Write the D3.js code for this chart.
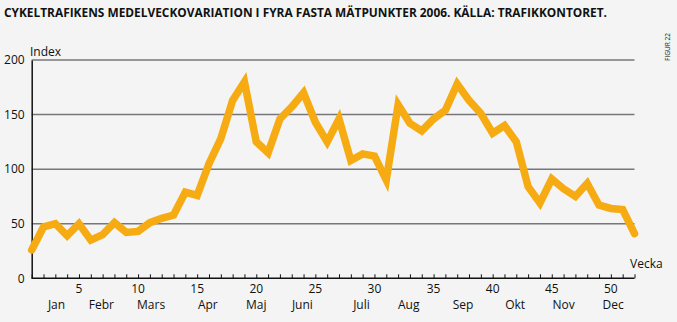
<!DOCTYPE html>
<html><head><meta charset="utf-8">
<script src="https://cdn.jsdelivr.net/npm/d3@7/dist/d3.min.js"></script>
<style>
html,body{margin:0;padding:0;background:#f3f4f3;}
svg{display:block;}
text{font-family:"Open Sans","Noto Sans",sans-serif;fill:#111;}
</style></head><body>
<svg id="chart" width="677" height="322"></svg>
<script>
const weeks = d3.range(1, 53);
const values = [26, 47, 50, 39, 50, 35, 40, 51, 42, 43, 51, 55, 58, 79, 76, 105,
  128, 163, 180, 125, 115, 146, 157, 170, 143, 125, 146, 108, 114, 112, 90, 159,
  142, 135, 146, 154, 178, 163, 151, 133, 140, 125, 84, 69, 91, 82, 75, 87, 67, 64, 63, 41];
const yTicks = [0, 50, 100, 150, 200];
const xTickLabels = [5, 10, 15, 20, 25, 30, 35, 40, 45, 50];
const months = ["Jan","Febr","Mars","Apr","Maj","Juni","Juli","Aug","Sep","Okt","Nov","Dec"];
const monthPos = [3.1, 6.9, 11.1, 15.9, 20, 23.9, 28.9, 32.9, 37.5, 41.9, 46, 50.2];

const svg = d3.select("#chart");
const x = d3.scaleLinear().domain([1, 52]).range([31.7, 634.5]);
const y = d3.scaleLinear().domain([0, 200]).range([278.3, 60]);

// title
svg.append("text").attr("x", 4).attr("y", 17)
  .attr("font-size", 11.5).attr("font-weight", 700)
  .attr("textLength", 603).attr("lengthAdjust", "spacingAndGlyphs")
  .text("CYKELTRAFIKENS MEDELVECKOVARIATION I FYRA FASTA MÄTPUNKTER 2006. KÄLLA: TRAFIKKONTORET.");

svg.append("text").attr("transform", "translate(670,47) rotate(-90)")
  .attr("text-anchor", "middle").attr("font-size", 6.5).text("FIGUR 22");

// gridlines
svg.append("g").selectAll("line").data(yTicks.filter(d => d > 0)).join("line")
  .attr("x1", x(1)).attr("x2", x(52)).attr("y1", d => y(d)).attr("y2", d => y(d))
  .attr("stroke", "#77777a").attr("stroke-width", 1.5);

// y axis
const yAxis = d3.axisLeft(y).tickValues(yTicks).tickSize(0).tickPadding(7);
const gy = svg.append("g").attr("transform", `translate(${x(1)},0)`).call(yAxis);
gy.select(".domain").attr("stroke", "#111").attr("stroke-width", 1.5);
gy.selectAll("text").attr("font-size", 12).attr("font-family", "'Open Sans',sans-serif").attr("fill", "#111");

// x axis with week ticks upward
const xAxis = d3.axisTop(x).tickValues(weeks).tickSize(4).tickFormat("");
const gx = svg.append("g").attr("transform", `translate(0,${y(0)})`).call(xAxis);
gx.select(".domain").attr("d", `M${x(1)},0H${x(52)}`).attr("stroke", "#111").attr("stroke-width", 1.5);
gx.selectAll(".tick line").attr("stroke", "#111").attr("stroke-width", 1);

svg.append("g").selectAll("text").data(xTickLabels).join("text")
  .attr("x", d => x(d)).attr("y", 293).attr("text-anchor", "middle")
  .attr("font-size", 12).text(d => d);

svg.append("g").selectAll("text").data(months).join("text")
  .attr("x", (d, i) => x(monthPos[i])).attr("y", 309).attr("text-anchor", "middle")
  .attr("font-size", 12).text(d => d);

svg.append("text").attr("x", 30).attr("y", 56).attr("font-size", 12).text("Index");
svg.append("text").attr("x", 630).attr("y", 268).attr("font-size", 12).text("Vecka");

// line
const line = d3.line().x((d, i) => x(weeks[i])).y(d => y(d));
svg.append("path").datum(values).attr("d", line)
  .attr("fill", "none").attr("stroke", "#f6ab12").attr("stroke-width", 7.5)
  .attr("stroke-linejoin", "miter").attr("stroke-linecap", "round");
</script>
</body></html>
